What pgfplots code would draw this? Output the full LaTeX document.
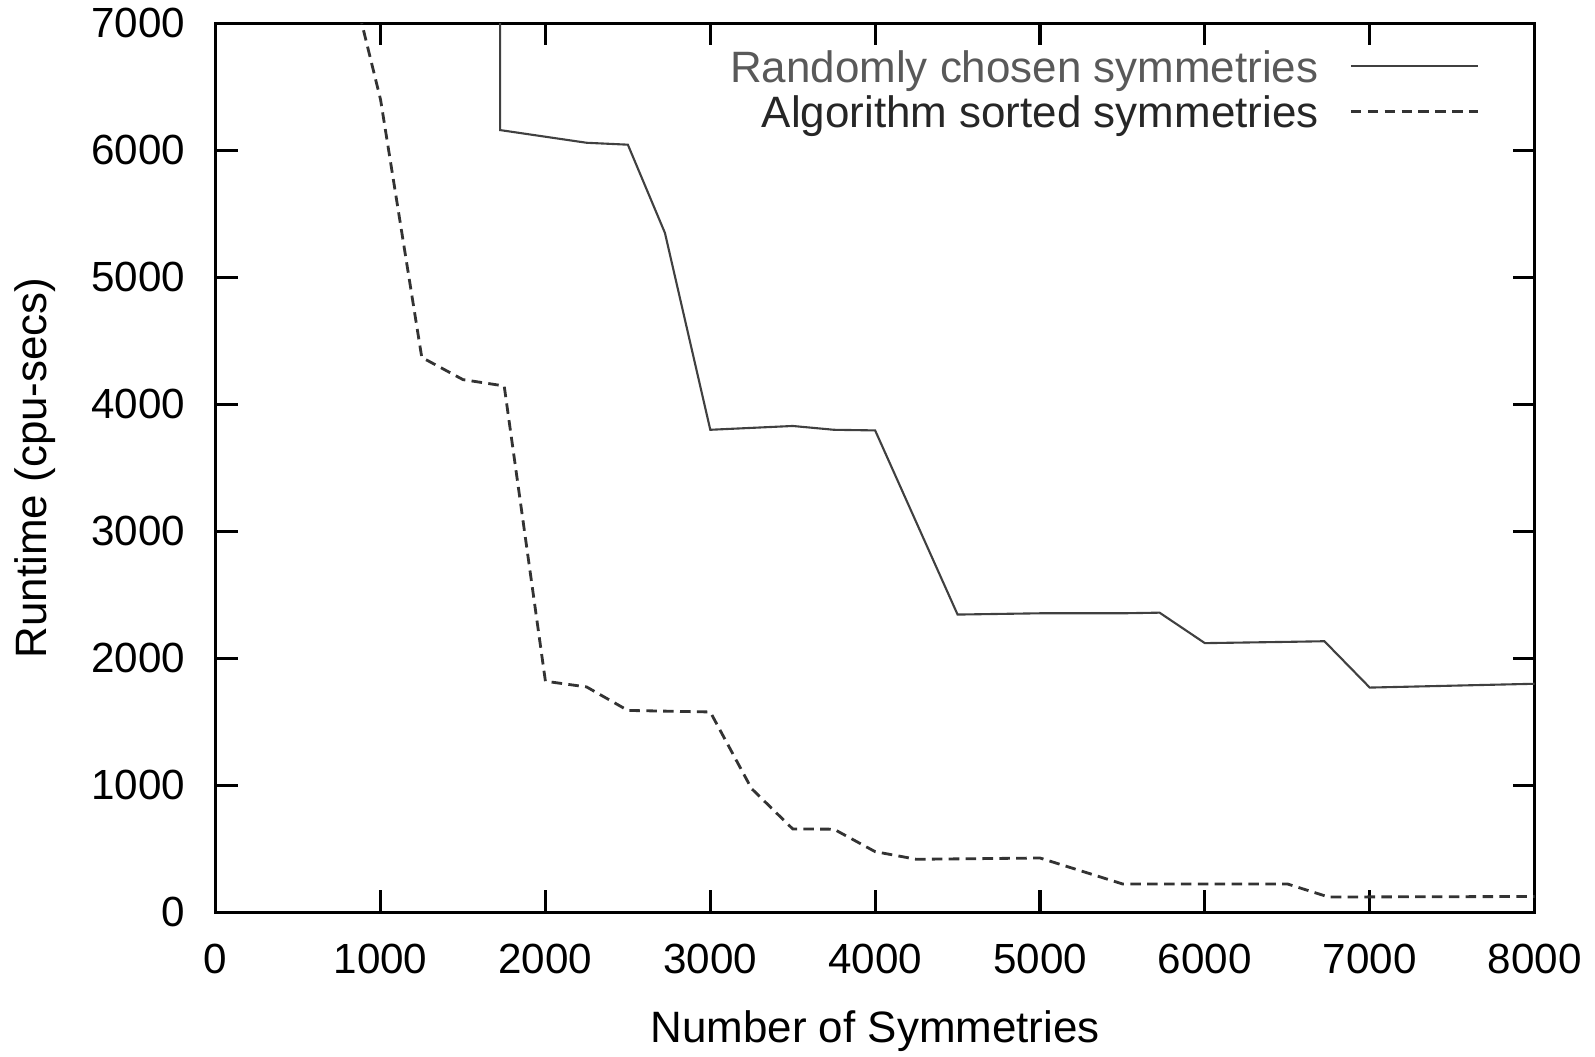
\documentclass[border=0pt]{standalone}
\usepackage{pgfplots}
\pgfplotsset{compat=1.18}
\usepackage{fontspec}
\setmainfont{Liberation Sans}
\begin{document}
\begin{tikzpicture}
  \begin{axis}[
    scale only axis,
    width=13.19cm, height=8.89cm,
    xmin=0, xmax=8000,
    ymin=0, ymax=7000,
    xtick={0,1000,...,8000},
    ytick={0,1000,...,7000},
    scaled ticks=false,
    /pgf/number format/1000 sep={},
    /pgf/number format/assume math mode=true,
    tick align=inside,
    major tick length=0.22cm,
    axis line style={line width=0.9pt},
    every tick/.style={black, line width=0.9pt},
    tick label style={font=\fontsize{12}{14}\selectfont},
    yticklabel style={inner sep=0pt, xshift=-0.3cm},
    xticklabel style={inner sep=0pt, yshift=-0.31cm},
    label style={font=\fontsize{12.5}{15}\selectfont},
    xlabel={Number of Symmetries},
    ylabel={Runtime (cpu-secs)},
    xlabel style={at={(axis description cs:0.5,-0.1462)}, anchor=base},
    ylabel style={at={(axis description cs:-0.1281,0.5)}, anchor=base},
    legend plot pos=right,
    legend cell align=right,
    legend image code/.code={\draw[#1] (0cm,0.05cm) -- (1.27cm,0.05cm);},
    legend style={draw=none, fill=none, at={(axis description cs:0.9586,0.9723)},
      anchor=north east, inner sep=0pt, column sep=0.31cm, row sep=0pt,
      font=\fontsize{12.5}{15}\selectfont,
      nodes={inner sep=0pt, text height=9.6pt, text depth=3.2pt}},
  ]
  \addplot[black!75, line width=0.6pt] coordinates {
    (1725,7600) (1725,6160) (2250,6060) (2500,6045) (2725,5350)
    (3000,3800) (3500,3830) (3750,3800) (4000,3795) (4500,2345)
    (5000,2355) (5500,2355) (5725,2360) (6000,2120) (6500,2130)
    (6725,2135) (7000,1770) (7500,1785) (8000,1800)
  };
  \addlegendentry[text=black!65]{Randomly chosen symmetries}
  \addplot[black!80, line width=0.8pt, dash pattern=on 3pt off 1.8pt] coordinates {
    (750,7720) (1000,6400) (1250,4370) (1500,4195) (1750,4145)
    (2000,1820) (2250,1775) (2500,1590) (3000,1578) (3250,975)
    (3500,657) (3750,655) (4000,478) (4250,418) (5000,428)
    (5500,224) (6500,224) (6750,121) (8000,125)
  };
  \addlegendentry[text=black!85]{Algorithm sorted symmetries}
  \end{axis}
  \pgfresetboundingbox
  \path[use as bounding box]
    ([xshift=-2.157cm,yshift=-1.446cm]current axis.south west)
    rectangle ([xshift=0.604cm,yshift=0.234cm]current axis.north east);
\end{tikzpicture}
\end{document}
